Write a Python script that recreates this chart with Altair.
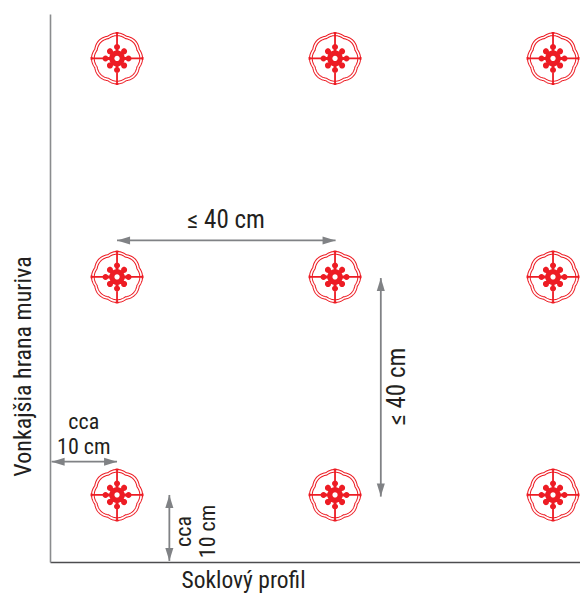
import math
import altair as alt
import pandas as pd

# anchor positions in cm from the corner of the wall and plinth profile
anchor_x = [12.3, 52.3, 92.3]
anchor_y = [12.3, 52.3, 92.4]

# dimension arrows: x, y, x2, y2 (cm)
arrow_x1 = [12.3, 60.7, 0.3, 21.9]
arrow_y1 = [59.0, 52.1, 18.4, 12.3]
arrow_x2 = [52.4, 60.7, 12.3, 21.9]
arrow_y2 = [59.0, 12.0, 18.4, 0.2]

# labels
label_text = ["≤ 40 cm", "≤ 40 cm", "cca", "10 cm", "cca", "10 cm"]
label_x = [32.3, 63.7, 6.2, 6.2, 24.6, 29.0]
label_y = [62.7, 32.2, 25.7, 21.1, 5.6, 5.6]
label_angle = [0, 270, 0, 0, 270, 270]

X_TITLE = "Soklový profil"
Y_TITLE = "Vonkajšia hrana muriva"
RED = "#ed1c24"
GREY = "#808285"
FONT = "Roboto Condensed, Liberation Sans"
R = 26.0


def circle(cx, cy, r):
    return (f"M{cx - r:.4f},{cy:.4f}A{r:.4f},{r:.4f} 0 1 0 {cx + r:.4f},{cy:.4f}"
            f"A{r:.4f},{r:.4f} 0 1 0 {cx - r:.4f},{cy:.4f}Z")


def ring(radius):
    pts = []
    for i in range(240):
        t = 2 * math.pi * i / 240
        rr = radius / R * (1 - 0.055 * (1 - abs(math.cos(4 * t))))
        pts.append(f"{rr * math.cos(t):.4f},{rr * math.sin(t):.4f}")
    return "M" + "L".join(pts) + "Z"


def bar(a, half, r0, r1):
    c, s = math.cos(a), math.sin(a)
    p = [(r0 * c - half * s, r0 * s + half * c), (r1 * c - half * s, r1 * s + half * c),
         (r1 * c + half * s, r1 * s - half * c), (r0 * c + half * s, r0 * s - half * c)]
    return "M" + "L".join(f"{x:.4f},{y:.4f}" for x, y in p) + "Z"


u = 1 / R
star_parts = [circle(0, 0, 7.8 * u)]
cross_parts = []
for k in range(8):
    a = k * math.pi / 4
    d = 11.5 if k % 2 == 0 else 10
    star_parts.append(bar(a, 1.5 * u, 0, d * u))
    star_parts.append(circle(d * u * math.cos(a), d * u * math.sin(a), 3 * u))
for k in range(4):
    a = k * math.pi / 2
    cross_parts.append(bar(a, 0.9 * u, 0, 26 * u))
    cross_parts.append(bar(a, 1.4 * u, 24.5 * u, 26.5 * u))
STAR = "".join(star_parts + cross_parts)
HOLE = circle(0, 0, 2.6 * u)
HEAD = "M0,0L2,-0.62L2,0.62Z"

anchors = pd.DataFrame([{"x": x, "y": y} for x in anchor_x for y in anchor_y])
arrows = pd.DataFrame({"x": arrow_x1, "y": arrow_y1, "x2": arrow_x2, "y2": arrow_y2})
labels = pd.DataFrame({"t": label_text, "x": label_x, "y": label_y, "a": label_angle})
labels["fs"] = [25 if "≤" in t else 22 for t in label_text]

xs = alt.Scale(domain=[0, 97.25], nice=False, zero=False)
ys = alt.Scale(domain=[0, 100.55], nice=False, zero=False)
X = alt.X("x:Q", scale=xs, title=X_TITLE, axis=alt.Axis(
    ticks=False, labels=False, grid=False, domainColor="#4d4d4f", domainWidth=1.6,
    titleFont=FONT, titleFontSize=23.5, titleFontWeight="normal", titleColor="#231f20",
    titleAnchor="start", titleAlign="center", titleBaseline="alphabetic", titleX=193, titleY=25))
Y = alt.Y("y:Q", scale=ys, title=Y_TITLE, axis=alt.Axis(
    ticks=False, labels=False, grid=False, domainColor="#8a8c8e", domainWidth=1.6,
    titleFont=FONT, titleFontSize=24, titleFontWeight="normal", titleColor="#231f20",
    titleAnchor="start", titleAlign="center", titleBaseline="alphabetic", titleX=-20, titleY=352,
    titleAngle=270))


def sym(shape, size, **kw):
    return alt.Chart(anchors).mark_point(shape=shape, size=size, opacity=1, **kw).encode(x=X, y=Y)


D = (2 * R) ** 2
layers = [
    sym(ring(25.5), D, filled=False, stroke=RED, strokeWidth=1.05),
    sym(ring(22.8), D, filled=False, stroke=RED, strokeWidth=1.05),
    sym(STAR, D, filled=True, fill=RED, strokeWidth=0),
    sym(HOLE, D, filled=True, fill="white", strokeWidth=0),
    alt.Chart(arrows).mark_rule(color=GREY, strokeWidth=1.8).encode(x=X, y=Y, x2="x2:Q", y2="y2:Q"),
]
# arrow heads: one per end, rotated along the arrow direction
start = arrows[["x", "y"]].copy()
start["ang"] = [0, 90, 0, 90]
end = arrows[["x2", "y2"]].rename(columns={"x2": "x", "y2": "y"}).copy()
end["ang"] = [180, 270, 180, 270]
heads = pd.concat([start, end], ignore_index=True)
layers.append(alt.Chart(heads).mark_point(shape=HEAD, size=13 ** 2, filled=True, fill=GREY,
                                          opacity=1, strokeWidth=0).encode(
    x=X, y=Y, angle=alt.Angle("ang:Q", scale=None)))
for ang in sorted(set(label_angle)):
    for fs in sorted(set(labels.fs)):
        layers.append(alt.Chart(labels[(labels.a == ang) & (labels.fs == fs)]).mark_text(
            font=FONT, fontSize=fs, color="#231f20", align="center", baseline="middle", angle=ang).encode(
            x=X, y=Y, text="t:N"))

chart = alt.layer(*layers).properties(
    width=530, height=548,
    padding={"left": 42, "top": 6, "right": 0, "bottom": 31},
    autosize=alt.AutoSizeParams(type="none"),
    background="white",
).configure_view(stroke=None)

chart.save("out.html", embed_options={"renderer": "svg", "actions": False})
